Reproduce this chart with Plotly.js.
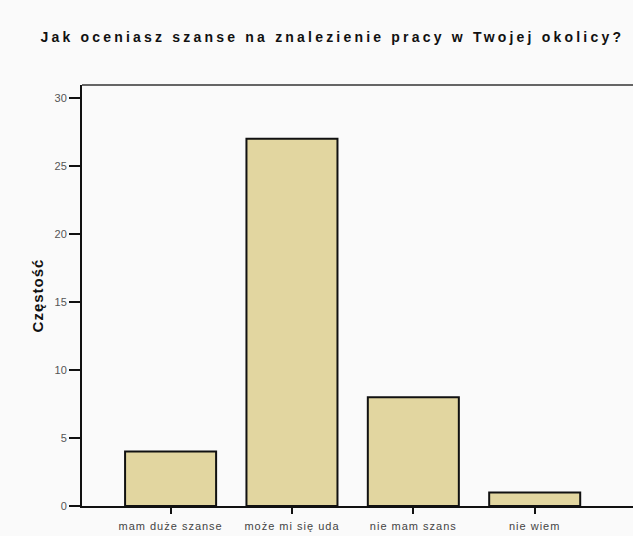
<!DOCTYPE html>
<html><head><meta charset="utf-8">
<script src="https://cdn.plot.ly/plotly-3.0.1.min.js"></script>
<style>
body{margin:0;background:#fafafa}
.gtitle{letter-spacing:3.2px}
.xtick text{letter-spacing:1px}
.ytitle{letter-spacing:1px}
</style>
</head><body>
<div id="chart" style="width:633px;height:536px"></div>
<script>
const categories = ["mam duże szanse", "może mi się uda", "nie mam szans", "nie wiem"];
const counts = [4, 27, 8, 1];
const yTicks = [0, 5, 10, 15, 20, 25, 30];

const trace = {
  type: "bar",
  x: categories,
  y: counts,
  width: 0.75,
  marker: {color: "#e2d6a0", line: {color: "#111", width: 2}},
  hoverinfo: "x+y"
};

const layout = {
  width: 633, height: 536,
  paper_bgcolor: "#fafafa", plot_bgcolor: "#fafafa",
  margin: {l: 82, r: 0, t: 85, b: 30},
  showlegend: false,
  title: {
    text: "Jak oceniasz szanse na znalezienie pracy w Twojej okolicy?",
    font: {family: "Liberation Sans", size: 14, color: "#111", weight: "bold"},
    x: 0.525, xanchor: "center", y: 0.93, yanchor: "middle"
  },
  xaxis: {
    type: "category",
    range: [-0.73, 3.81],
    showline: true, linecolor: "#111", linewidth: 2,
    ticks: "outside", ticklen: 6, tickwidth: 2, tickcolor: "#111",
    ticklabelstandoff: 3,
    tickfont: {family: "Liberation Sans", size: 11, color: "#444"},
    showgrid: false, zeroline: false, fixedrange: true
  },
  yaxis: {
    range: [0, 30.96],
    tickvals: yTicks,
    showline: true, linecolor: "#111", linewidth: 2,
    ticks: "outside", ticklen: 11, tickwidth: 2, tickcolor: "#111",
    ticklabelstandoff: 0,
    tickfont: {family: "Liberation Sans", size: 11, color: "#555"},
    showgrid: false, zeroline: false, fixedrange: true,
    title: {text: "Częstość", standoff: 7,
      font: {family: "Liberation Sans", size: 15, color: "#111", weight: "bold"}}
  },
  shapes: [{type: "line", xref: "paper", yref: "paper", x0: 0, x1: 1, y0: 1, y1: 1,
    line: {color: "#333", width: 1.5}}]
};

Plotly.newPlot("chart", [trace], layout, {displayModeBar: false, staticPlot: true});
</script>
</body></html>
